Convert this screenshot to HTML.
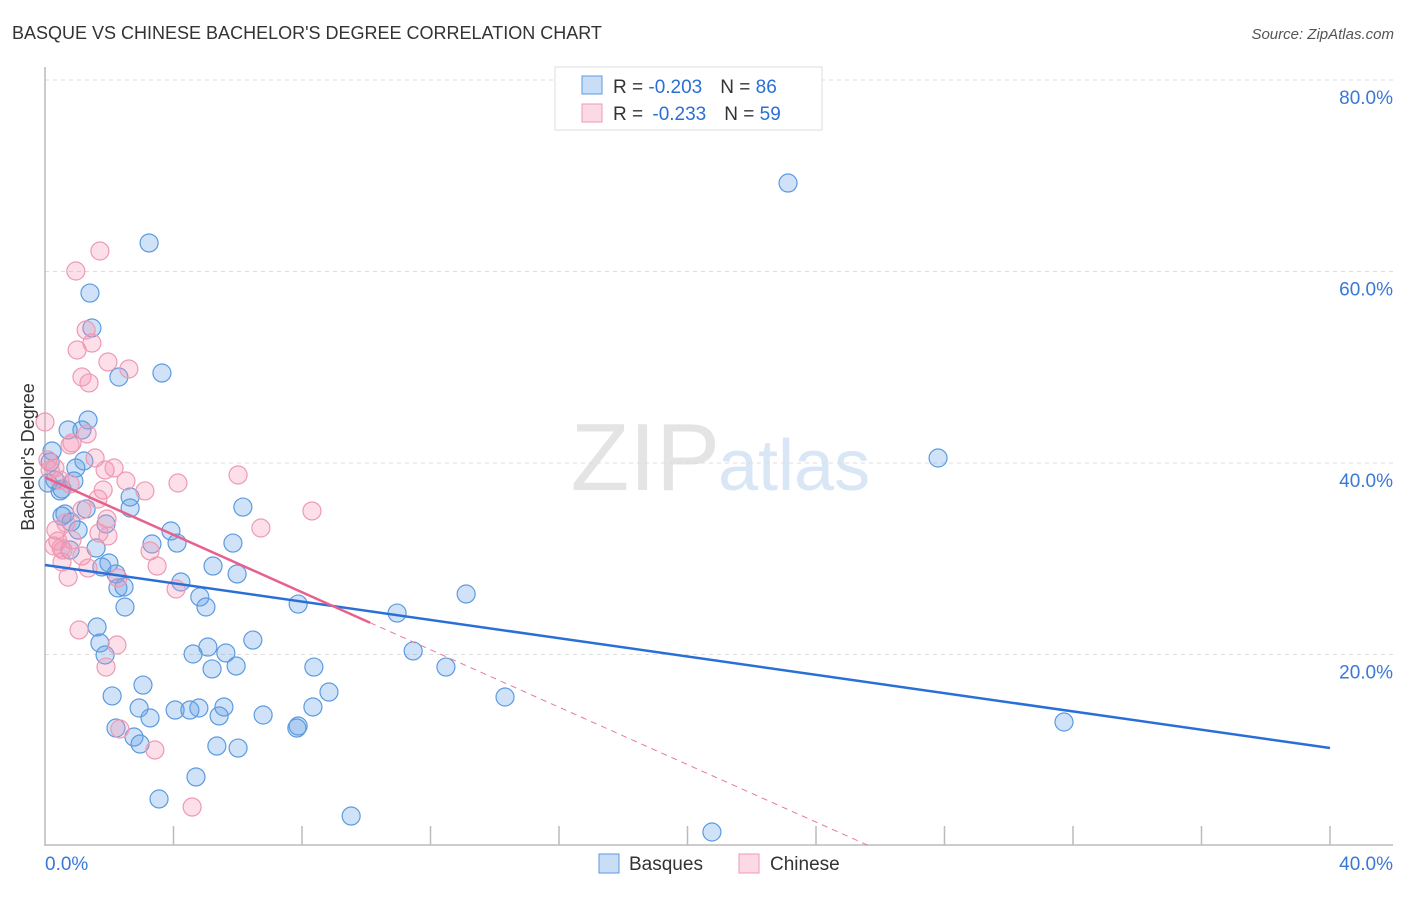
<!DOCTYPE html>
<html><head><meta charset="utf-8">
<style>
body{margin:0;background:#fff;font-family:"Liberation Sans",sans-serif;}
svg text{font-family:"Liberation Sans",sans-serif;}
</style></head>
<body>
<svg id="chart" width="1406" height="892" viewBox="0 0 1406 892">
<text x="12" y="39" font-size="18" fill="#333">BASQUE VS CHINESE BACHELOR'S DEGREE CORRELATION CHART</text>
<text x="1394" y="39" font-size="15" fill="#555" font-style="italic" text-anchor="end">Source: ZipAtlas.com</text>
<text x="720" y="490" font-size="96" fill="#e4e4e4" text-anchor="end" font-family="Liberation Serif">ZIP</text>
<text x="718" y="490" font-size="72" fill="#d8e6f6">atlas</text>
<g id="grid"></g>
<g id="axes"></g>
<g id="pts"></g>
<g id="trend"></g>
<text x="34" y="457" font-size="18" fill="#333" text-anchor="middle" transform="rotate(-90 34 457)">Bachelor's Degree</text>
<g>
<rect x="555" y="67" width="267" height="63" fill="#fff" stroke="#ddd"/>
<rect x="582" y="76" width="20" height="18" fill="rgba(100,160,230,0.35)" stroke="#5b9be0"/>
<rect x="582" y="104" width="20" height="18" fill="rgba(245,150,180,0.35)" stroke="#ee9ab4"/>
<text x="613" y="93" font-size="19" fill="#333">R = <tspan fill="#2a6fd6">-0.203</tspan><tspan dx="18">N = </tspan><tspan fill="#2a6fd6">86</tspan></text>
<text x="613" y="120" font-size="19" fill="#333">R = <tspan fill="#2a6fd6" dx="4">-0.233</tspan><tspan dx="18">N = </tspan><tspan fill="#2a6fd6">59</tspan></text>
</g>
<g>
<rect x="599" y="854" width="20" height="19" fill="rgba(100,160,230,0.35)" stroke="#5b9be0"/>
<text x="629" y="870" font-size="19" fill="#333">Basques</text>
<rect x="739" y="854" width="20" height="19" fill="rgba(245,150,180,0.35)" stroke="#ee9ab4"/>
<text x="770" y="870" font-size="19" fill="#333">Chinese</text>
</g>
</svg>
<script>
const basqueX=[23.13,3.24,1.40,1.46,3.64,2.30,27.80,1.34,0.72,1.15,1.21,0.22,0.96,0.16,0.31,0.09,0.47,0.90,2.65,2.65,6.16,1.28,0.62,0.53,1.90,1.03,0.78,1.59,3.33,3.92,4.11,5.85,1.99,1.77,2.21,5.23,5.98,4.23,2.27,2.46,4.82,5.01,2.49,7.88,10.96,13.11,1.62,1.71,1.87,5.07,6.47,5.63,4.61,5.95,5.20,11.46,12.48,8.37,31.72,14.32,2.09,3.05,8.84,2.93,4.79,4.05,4.51,5.57,3.27,5.42,6.79,8.34,2.21,7.84,7.88,2.77,2.96,5.35,6.01,4.70,3.55,9.53,20.76,0.81,0.53];
const basqueY=[69.24,62.98,57.75,54.10,49.40,48.98,40.52,44.49,43.45,43.45,40.21,41.25,39.48,40.10,38.22,37.91,37.08,38.12,36.45,35.30,35.40,35.20,34.67,34.46,33.63,33.00,30.91,31.12,31.54,32.90,31.64,31.64,29.56,29.14,28.41,29.24,28.41,27.57,26.95,27.05,26.01,24.96,24.96,25.27,24.33,26.32,22.87,21.20,19.95,20.78,21.51,20.16,20.05,18.80,18.49,20.37,18.69,18.69,12.95,15.56,15.67,16.81,16.08,14.41,14.41,14.20,14.20,14.52,13.37,13.58,13.68,14.52,12.32,12.32,12.53,11.38,10.65,10.44,10.23,7.21,4.91,3.13,1.46,33.84,37.28];
const chineseX=[1.71,0.96,1.00,1.46,1.28,1.96,2.61,1.15,1.37,0.00,1.31,0.84,0.78,1.56,0.09,0.31,1.87,2.15,6.01,4.14,1.81,3.11,2.52,0.78,1.65,1.15,1.93,6.72,8.31,0.34,0.40,0.84,1.96,3.27,3.49,2.27,0.72,0.53,0.28,1.15,0.50,4.08,1.06,2.24,1.90,2.33,3.42,4.58,0.47,0.16,0.65,1.68,0.56,1.34];
const chineseY=[62.14,60.05,51.80,52.53,53.89,50.55,49.82,48.98,48.36,44.28,43.03,42.09,41.88,40.52,40.31,39.48,39.27,39.48,38.75,37.91,37.18,37.08,38.12,37.81,36.24,35.09,34.15,33.21,34.99,33.00,31.85,31.96,32.38,30.81,29.24,27.99,28.09,29.66,31.33,30.29,31.12,26.84,22.56,20.99,18.69,12.22,10.03,4.07,38.22,39.27,33.73,32.69,30.91,29.03];
const yTicks=[20,40,60,80];
const yTickLabels=["20.0%","40.0%","60.0%","80.0%"];
const xTicks=[0,4,8,12,16,20,24,28,32,36,40];
const basqueTrend=[29.35,10.23]; // value at x=0 and x=40
const chineseTrend=[38.5,-1.50]; // intercept, slope per %
const chineseSolidEnd=10.12;

const X=v=>45+v*32.125;
const Y=v=>846-v*9.575;
const NS='http://www.w3.org/2000/svg';
function mk(tag,attrs,parent){const e=document.createElementNS(NS,tag);for(const k in attrs)e.setAttribute(k,attrs[k]);parent.appendChild(e);return e;}
const grid=document.getElementById('grid'),axes=document.getElementById('axes'),pts=document.getElementById('pts'),trend=document.getElementById('trend');
yTicks.forEach((t,i)=>{
 const l=mk('line',{x1:45,x2:1393,y1:Y(t),y2:Y(t),stroke:'#ddd','stroke-dasharray':'4,4'},grid);
 
 
 const tx=mk('text',{x:1393,y:Y(t)+24,'font-size':19,fill:'#3a78d8','text-anchor':'end'},grid);
 tx.textContent=yTickLabels[i];
 
 
});
const ya=mk('line',{x1:45,x2:45,y1:67,y2:846,stroke:'#bbb','stroke-width':1.5},axes);


const xa=mk('line',{x1:45,x2:1393,y1:845,y2:845,stroke:'#bbb','stroke-width':1.5},axes);


xTicks.slice(1).forEach(t=>{
 const l=mk('line',{x1:X(t),x2:X(t),y1:826,y2:845,stroke:'#bbb','stroke-width':1.5},axes);
 
 
});
const x0=mk('text',{x:45,y:870,'font-size':19,fill:'#3a78d8'},axes);x0.textContent='0.0%';


const x1=mk('text',{x:1393,y:870,'font-size':19,fill:'#3a78d8','text-anchor':'end'},axes);x1.textContent='40.0%';


basqueX.forEach((v,i)=>{
 const c=mk('circle',{cx:X(v),cy:Y(basqueY[i]),r:9,fill:'rgba(100,160,230,0.3)',stroke:'#5b9be0','stroke-width':1.2},pts);
 
 
});
chineseX.forEach((v,i)=>{
 const c=mk('circle',{cx:X(v),cy:Y(chineseY[i]),r:9,fill:'rgba(245,150,180,0.3)',stroke:'#ee9ab4','stroke-width':1.2},pts);
 
 
});
const bl=mk('line',{x1:X(0),y1:Y(basqueTrend[0]),x2:X(40),y2:Y(basqueTrend[1]),stroke:'#2a6fd6','stroke-width':2.5},trend);


const cz=-chineseTrend[0]/chineseTrend[1];
const cd=mk('line',{x1:X(chineseSolidEnd),y1:Y(chineseTrend[0]+chineseTrend[1]*chineseSolidEnd),x2:X(cz),y2:Y(0),stroke:'#e8799e','stroke-width':1,'stroke-dasharray':'6,5'},trend);


const cl=mk('line',{x1:X(0),y1:Y(chineseTrend[0]),x2:X(chineseSolidEnd),y2:Y(chineseTrend[0]+chineseTrend[1]*chineseSolidEnd),stroke:'#e8608c','stroke-width':2.5},trend);


</script>
</body></html>
